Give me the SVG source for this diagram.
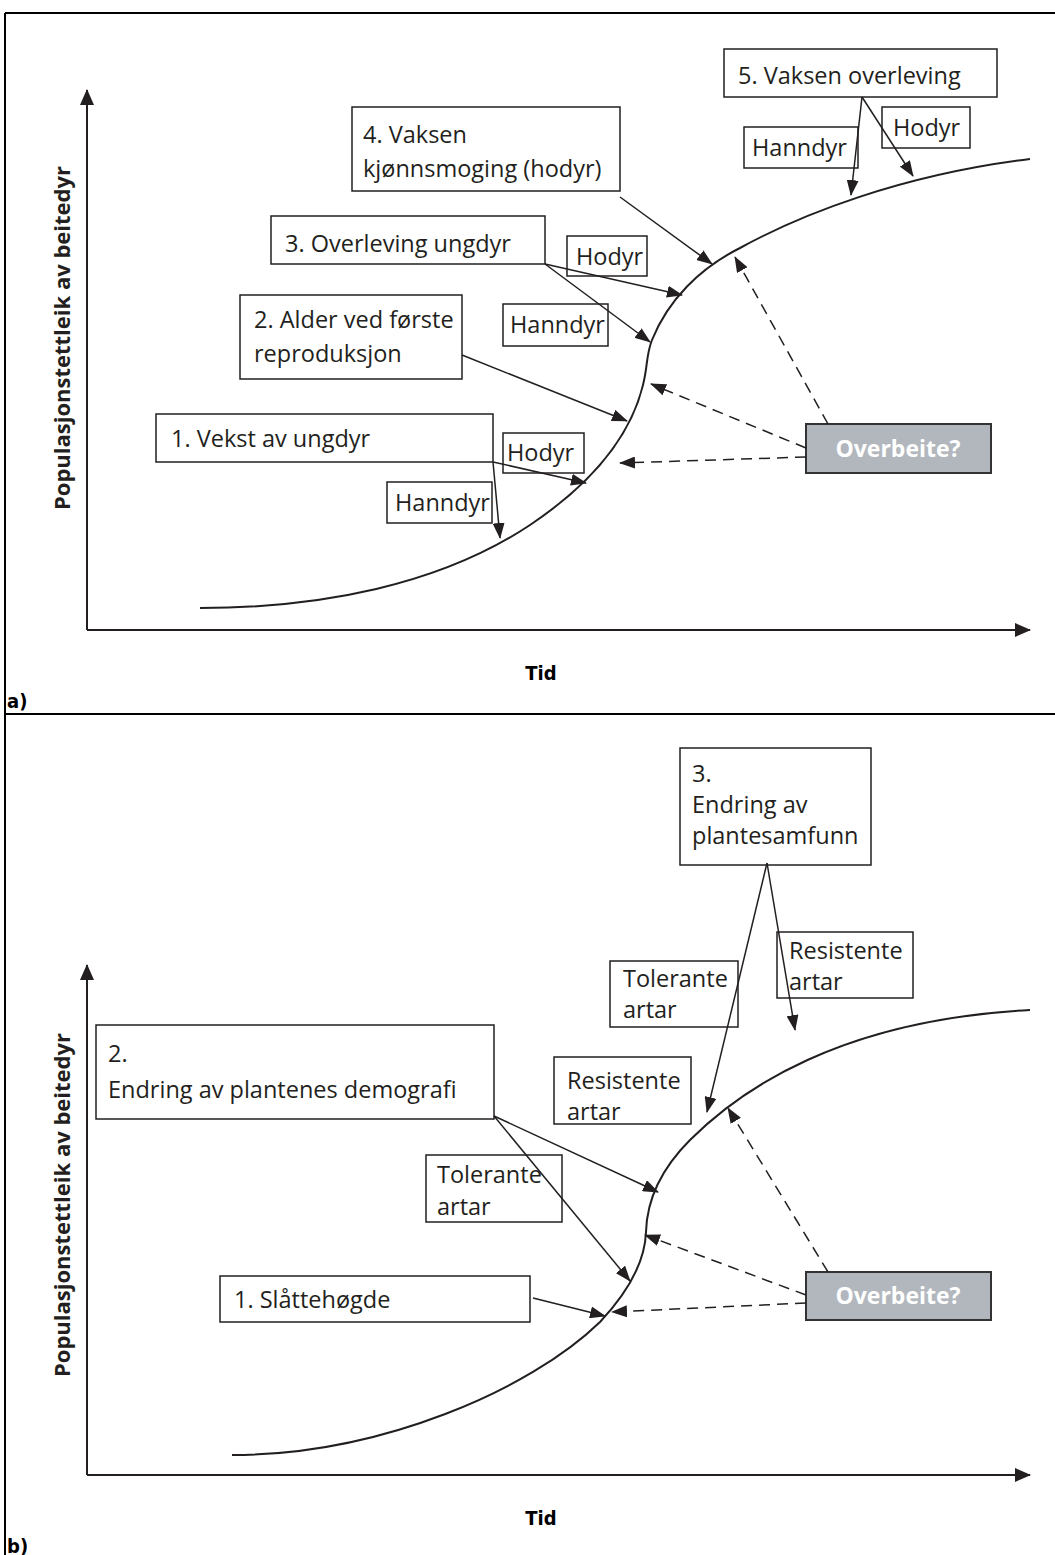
<svg xmlns="http://www.w3.org/2000/svg" width="1055" height="1555" viewBox="0 0 1055 1555">
<defs>
<style>
.frame{stroke:#000;stroke-width:2;fill:none}
.axis{stroke:#231f20;stroke-width:2;fill:none}
.curve{stroke:#231f20;stroke-width:2;fill:none}
.box{fill:#fff;stroke:#231f20;stroke-width:1.5}
.gbox{fill:#b2b7be;stroke:#333;stroke-width:2}
.lbl{font-family:"Open Sans","Noto Sans",sans-serif;font-size:23.5px;fill:#231f20}
.ov{font-family:"Open Sans","Noto Sans",sans-serif;font-size:23px;font-weight:bold;fill:#fff;text-anchor:middle}
.ax{font-family:"Open Sans","Noto Sans",sans-serif;font-size:22px;font-weight:bold;fill:#231f20}
.cond{font-family:"DejaVu Sans",sans-serif;font-stretch:condensed;font-size:20px;font-weight:bold;fill:#000}
.arr{stroke:#231f20;stroke-width:1.5;fill:none;marker-end:url(#ah)}
.dash{stroke:#231f20;stroke-width:1.5;fill:none;stroke-dasharray:11,7;marker-end:url(#ah)}
</style>
<marker id="ah" markerUnits="userSpaceOnUse" markerWidth="16" markerHeight="12" refX="15" refY="6" orient="auto">
<path d="M0,0 L16,6 L0,12 z" fill="#231f20"/>
</marker>
<marker id="axh" markerUnits="userSpaceOnUse" markerWidth="16" markerHeight="14" refX="15" refY="7" orient="auto">
<path d="M0,0 L16,7 L0,14 z" fill="#231f20"/>
</marker>
</defs>
<g id="frame">
<path class="frame" d="M5,13 H1055 M5,13 V1555 M5,714 H1055"/>
</g>
<g id="panel-a-axes">
<path class="axis" d="M87,630 V90" marker-end="url(#axh)"/>
<path class="axis" d="M87,630 H1030" marker-end="url(#axh)"/>
<text class="ax" transform="translate(70,338) rotate(-90)" text-anchor="middle">Populasjonstettleik av beitedyr</text>
<text class="cond" x="541" y="680" text-anchor="middle">Tid</text>
<text class="cond" x="7" y="708">a)</text>
<path class="curve" d="M200,608 C320,608 440,585 530,525 C600,478 632,430 643,385 C648,365 646,355 652,340 C668,300 700,268 740,248 C800,215 900,175 1030,159"/>
</g>
<g id="a5"><rect class="box" x="724" y="49" width="273" height="48"/><text class="lbl" x="738" y="84">5. Vaksen overleving</text></g>
<g id="a5-hann"><rect class="box" x="744" y="127" width="114" height="41"/><text class="lbl" x="752" y="156">Hanndyr</text></g>
<g id="a5-ho"><rect class="box" x="882" y="107" width="88" height="41"/><text class="lbl" x="893" y="136">Hodyr</text></g>
<g id="a4"><rect class="box" x="352" y="107" width="268" height="84"/><text class="lbl" x="363" y="143">4. Vaksen</text><text class="lbl" x="363" y="177">kjønnsmoging (hodyr)</text></g>
<g id="a3"><rect class="box" x="271" y="216" width="274" height="48"/><text class="lbl" x="285" y="252">3. Overleving ungdyr</text></g>
<g id="a3-ho"><rect class="box" x="567" y="236" width="80" height="40"/><text class="lbl" x="576" y="265">Hodyr</text></g>
<g id="a3-hann"><rect class="box" x="503" y="304" width="105" height="42"/><text class="lbl" x="510" y="333">Hanndyr</text></g>
<g id="a2"><rect class="box" x="240" y="295" width="222" height="84"/><text class="lbl" x="254" y="328">2. Alder ved første</text><text class="lbl" x="254" y="362">reproduksjon</text></g>
<g id="a1"><rect class="box" x="156" y="414" width="337" height="48"/><text class="lbl" x="171" y="447">1. Vekst av ungdyr</text></g>
<g id="a1-ho"><rect class="box" x="503" y="433" width="81" height="40"/><text class="lbl" x="507" y="461">Hodyr</text></g>
<g id="a1-hann"><rect class="box" x="387" y="482" width="105" height="41"/><text class="lbl" x="395" y="511">Hanndyr</text></g>
<g id="a-over"><rect class="gbox" x="806" y="424" width="185" height="49"/><text class="ov" x="898" y="457">Overbeite?</text></g>
<g id="connectors-a">
<path class="arr" d="M862,97 L851,195"/>
<path class="arr" d="M862,97 L913,176"/>
<path class="arr" d="M620,197 L712,264"/>
<path class="arr" d="M545,264 L682,295"/>
<path class="arr" d="M545,264 L650,342"/>
<path class="arr" d="M462,355 L627,421"/>
<path class="arr" d="M493,462 L586,483"/>
<path class="arr" d="M493,462 L500,538"/>
<path class="dash" d="M806,457 L620,463"/>
<path class="dash" d="M806,448 L651,384"/>
<path class="dash" d="M828,424 L735,257"/>
</g>

<g id="panel-b-axes">
<path class="axis" d="M87,1475 V965" marker-end="url(#axh)"/>
<path class="axis" d="M87,1475 H1030" marker-end="url(#axh)"/>
<text class="ax" transform="translate(70,1205) rotate(-90)" text-anchor="middle">Populasjonstettleik av beitedyr</text>
<text class="cond" x="541" y="1525" text-anchor="middle">Tid</text>
<text class="cond" x="7" y="1553">b)</text>
<path class="curve" d="M232,1455 C380,1455 530,1390 600,1322 C630,1290 645,1260 646,1232 C647,1195 665,1165 690,1140 C740,1090 840,1020 1030,1010"/>
</g>
<g id="b3"><rect class="box" x="680" y="748" width="191" height="117"/><text class="lbl" x="692" y="782">3.</text><text class="lbl" x="692" y="813">Endring av</text><text class="lbl" x="692" y="844">plantesamfunn</text></g>
<g id="b3-tol"><rect class="box" x="610" y="961" width="128" height="66"/><text class="lbl" x="623" y="987">Tolerante</text><text class="lbl" x="623" y="1018">artar</text></g>
<g id="b3-res"><rect class="box" x="777" y="932" width="136" height="66"/><text class="lbl" x="789" y="959">Resistente</text><text class="lbl" x="789" y="990">artar</text></g>
<g id="b2"><rect class="box" x="96" y="1025" width="398" height="94"/><text class="lbl" x="108" y="1062">2.</text><text class="lbl" x="108" y="1098">Endring av plantenes demografi</text></g>
<g id="b2-res"><rect class="box" x="554" y="1057" width="137" height="67"/><text class="lbl" x="567" y="1089">Resistente</text><text class="lbl" x="567" y="1120">artar</text></g>
<g id="b2-tol"><rect class="box" x="426" y="1155" width="136" height="67"/><text class="lbl" x="437" y="1183">Tolerante</text><text class="lbl" x="437" y="1215">artar</text></g>
<g id="b1"><rect class="box" x="220" y="1276" width="310" height="46"/><text class="lbl" x="234" y="1308">1. Slåttehøgde</text></g>
<g id="b-over"><rect class="gbox" x="806" y="1272" width="185" height="48"/><text class="ov" x="898" y="1304">Overbeite?</text></g>
<g id="connectors-b">
<path class="arr" d="M767,863 L707,1112"/>
<path class="arr" d="M767,863 L795,1030"/>
<path class="arr" d="M494,1116 L658,1192"/>
<path class="arr" d="M494,1116 L630,1281"/>
<path class="arr" d="M533,1298 L605,1316"/>
<path class="dash" d="M806,1303 L612,1312"/>
<path class="dash" d="M806,1295 L645,1235"/>
<path class="dash" d="M828,1272 L728,1108"/>
</g>
</svg>
